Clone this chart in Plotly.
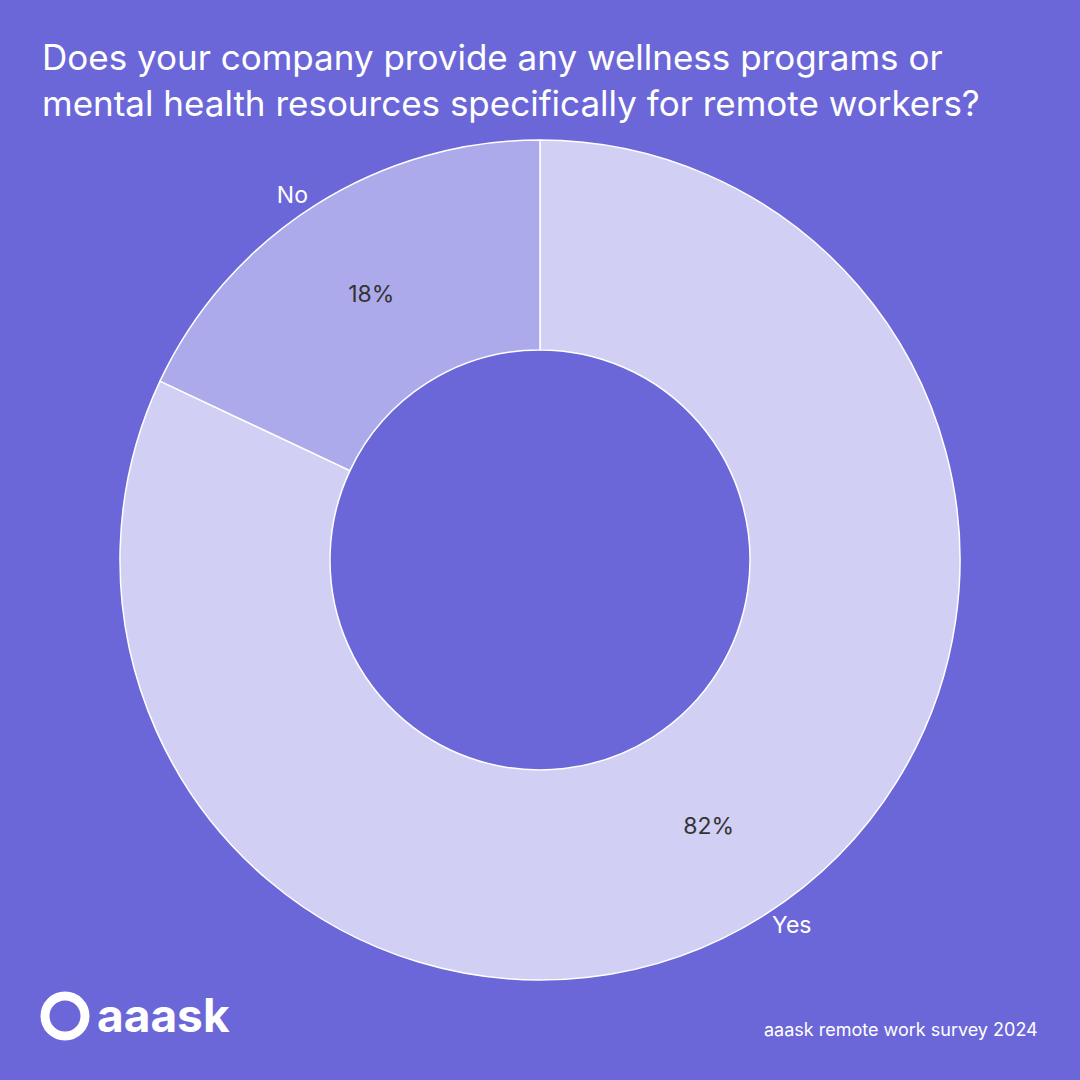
import plotly.graph_objects as go

labels = ['Yes', 'No']
values = [82, 18]
colors = ['#D1CFF4', '#ADAAEB']

BG = '#6B67D9'
TITLE = 'Does your company provide any wellness programs or<br>mental health resources specifically for remote workers?'
dom = dict(x=[120 / 1080, 960 / 1080], y=[1 - 980 / 1080, 1 - 140 / 1080])

fig = go.Figure()
# slices with percentages inside
fig.add_trace(go.Pie(
    labels=labels, values=values, hole=0.5, sort=False, direction='clockwise',
    rotation=0, domain=dom,
    marker=dict(colors=colors, line=dict(color='white', width=1.5)),
    textinfo='percent', textposition='inside', insidetextorientation='horizontal',
    textfont=dict(color='#333333', size=23, family='Inter'),
    showlegend=False, hoverinfo='label+percent'))
# transparent copy for the outside labels
fig.add_trace(go.Pie(
    labels=labels, values=values, hole=0.5, sort=False, direction='clockwise',
    rotation=0, domain=dom,
    marker=dict(colors=['rgba(0,0,0,0)'] * 2, line=dict(width=0)),
    textinfo='label', textposition='outside',
    textfont=dict(color='white', size=23, family='Inter'),
    showlegend=False, hoverinfo='skip'))

fig.update_layout(
    width=1080, height=1080,
    paper_bgcolor=BG, plot_bgcolor=BG,
    margin=dict(l=0, r=0, t=0, b=0),
    font=dict(family='Inter', color='white'),
    annotations=[
        dict(text=TITLE, x=40 / 1080, y=1 - 34 / 1080, xref='paper', yref='paper',
             xanchor='left', yanchor='top', align='left', showarrow=False,
             font=dict(size=35, color='white', family='Inter')),
        dict(text='<b>aaask</b>', x=95 / 1080, y=1 - 1015 / 1080, xref='paper', yref='paper',
             xanchor='left', yanchor='middle', showarrow=False,
             font=dict(size=46, color='white', family='Inter')),
        dict(text='aaask remote work survey 2024', x=1040 / 1080, y=1 - 1029 / 1080,
             xref='paper', yref='paper', xanchor='right', yanchor='middle', showarrow=False,
             font=dict(size=18, color='white', family='Inter')),
    ],
    shapes=[dict(type='circle', xref='paper', yref='paper',
                 x0=45 / 1080, x1=85 / 1080, y0=1 - 1036 / 1080, y1=1 - 996 / 1080,
                 line=dict(color='white', width=9))],
)

fig.write_html('out.html', config={'displayModeBar': False},
               post_script="document.body.style.margin='0';")
